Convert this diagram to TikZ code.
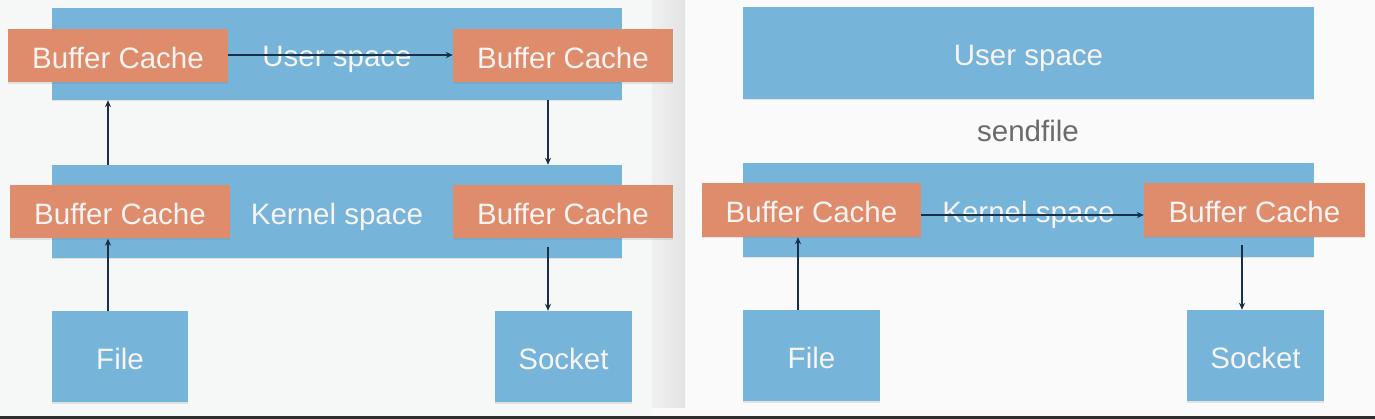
\documentclass[tikz,border=0pt]{standalone}
\usepackage{fontspec}
\setmainfont{Liberation Sans}
\usetikzlibrary{arrows.meta,shadows}
\definecolor{bluebox}{HTML}{76B4DA}
\definecolor{orangebox}{HTML}{DE8C6C}
\definecolor{arrowc}{HTML}{1A3048}
\definecolor{bgl}{HTML}{F6F7F7}
\definecolor{bgr}{HTML}{FAFAFA}
\definecolor{txtc}{HTML}{F7F4F2}
\tikzset{
  boxtext/.style={text=txtc, font=\fontsize{29.5}{31}\selectfont, inner sep=0pt, text height=26pt, text depth=0pt},
  panel/.style={boxtext, fill=bluebox, draw=none,
     drop shadow={shadow xshift=0pt, shadow yshift=-1.5pt, opacity=0.18}},
  cachebox/.style={boxtext, fill=orangebox, draw=none,
     minimum width=220pt, minimum height=53pt,
     drop shadow={shadow xshift=0pt, shadow yshift=-1.5pt, opacity=0.18}},
  arr/.style={draw=arrowc, line width=1.7pt, -{Stealth[length=7pt,width=6pt]}},
  caption/.style={text=black!58, font=\fontsize{29.5}{31}\selectfont, inner sep=0pt}
}
\begin{document}
\begin{tikzpicture}[x=1pt,y=-1pt]
\useasboundingbox (0,0) rectangle (1375,419);
% backgrounds
\fill[bgl] (0,0) rectangle (652,419);
\fill[bgr] (685,0) rectangle (1375,419);
\shade[left color=black!6, right color=black!11] (652,0) rectangle (685,408);
\fill[bgr] (652,408) rectangle (685,419);
\fill[black!82] (0,416) rectangle (1375,419);

% ---------------- left panel ----------------
\node[panel, minimum width=570pt, minimum height=92pt] (us) at (337,54) {User space};
\node[panel, minimum width=570pt, minimum height=93pt] (ks) at (337,211.5) {Kernel space};
\node[cachebox] (bc1) at (118,56) {Buffer Cache};
\node[cachebox] (bc2) at (563,56) {Buffer Cache};
\node[cachebox] (bc3) at (120,212) {Buffer Cache};
\node[cachebox] (bc4) at (563,212) {Buffer Cache};
\node[panel, minimum width=136pt, minimum height=91pt] (file) at (120,356.5) {File};
\node[panel, minimum width=137pt, minimum height=91pt] (sock) at (563.5,356.5) {Socket};

\coordinate (xl) at (108,0);
\coordinate (xr) at (548,0);
\draw[arr] (file.north -| xl) -- (bc3.south -| xl);
\draw[arr] (ks.north -| xl) -- (us.south -| xl);
\draw[arr] ([yshift=1pt]bc1.east) -- ([yshift=1pt]bc2.west);
\draw[arr] (us.south -| xr) -- (ks.north -| xr);
\draw[arr] ([yshift=-8pt]bc4.south -| xr) -- (sock.north -| xr);

% ---------------- right panel ----------------
\node[panel, minimum width=571pt, minimum height=92pt] (us2) at (1028.5,53) {User space};
\node[caption] (sf) at (1028,131) {sendfile};
\node[panel, minimum width=571pt, minimum height=94pt] (ks2) at (1028.5,210) {Kernel space};
\node[cachebox, minimum width=219pt, minimum height=54pt] (bc5) at (811.5,210) {Buffer Cache};
\node[cachebox, minimum width=221pt, minimum height=54pt] (bc6) at (1254.5,210) {Buffer Cache};
\node[panel, minimum width=137pt, minimum height=91pt] (file2) at (811.5,355.5) {File};
\node[panel, minimum width=137pt, minimum height=91pt] (sock2) at (1255.5,355.5) {Socket};

\coordinate (xl2) at (798,0);
\coordinate (xr2) at (1242,0);
\draw[arr] (file2.north -| xl2) -- (bc5.south -| xl2);
\draw[arr] ([yshift=-5pt]bc5.east) -- ([yshift=-5pt]bc6.west);
\draw[arr] ([yshift=-8pt]bc6.south -| xr2) -- (sock2.north -| xr2);
\end{tikzpicture}
\end{document}
